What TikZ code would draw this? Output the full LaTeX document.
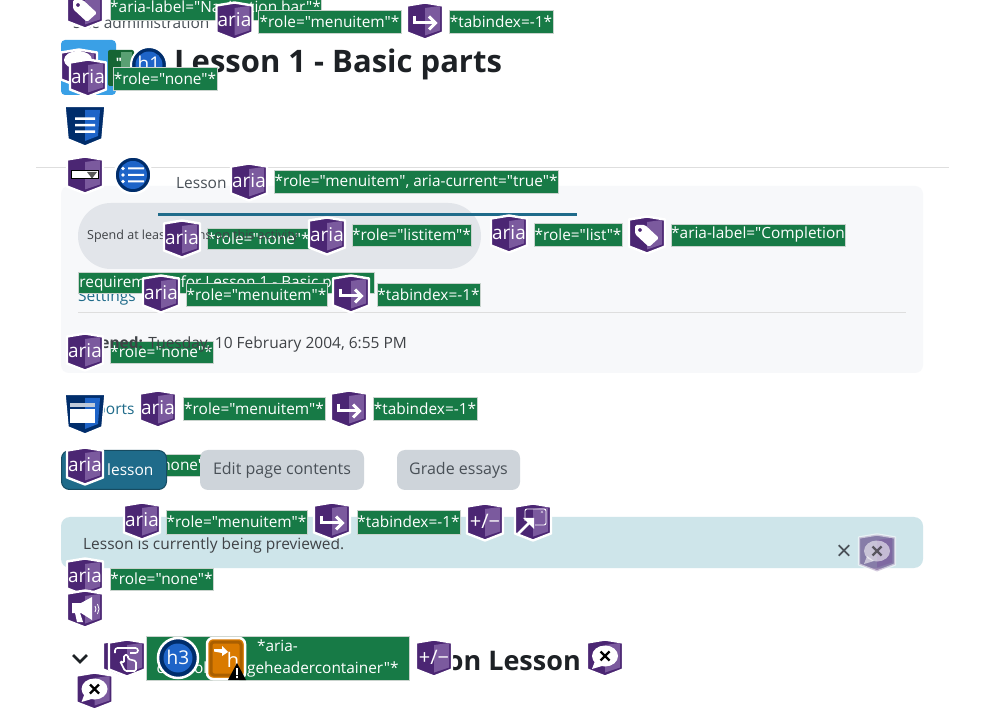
\documentclass[tikz,border=0pt]{standalone}
\usepackage{fontspec}
\newfontfamily\ofont{Open Sans}
\AtBeginDocument{\ofont}
\definecolor{pdark}{HTML}{4B2673}
\definecolor{plight}{HTML}{7B5A9E}
\definecolor{gbox}{HTML}{177A46}
\definecolor{gedge}{HTML}{C9D3CD}
\definecolor{ink}{HTML}{1D2125}
\definecolor{soft}{HTML}{495057}
\definecolor{link}{HTML}{1F6B8A}
\definecolor{navy}{HTML}{002D6B}
\definecolor{blu}{HTML}{1E64C8}
\definecolor{btn}{HTML}{CED4DA}
\definecolor{cardbg}{HTML}{F7F8FA}
\definecolor{pillbg}{HTML}{E2E5EA}
\definecolor{alertbg}{HTML}{CEE5EA}
\definecolor{skyb}{HTML}{3AA0E6}
\definecolor{qdark}{HTML}{166534}
\definecolor{qlight}{HTML}{5AA073}
\definecolor{orng}{HTML}{D97A00}
\definecolor{orngd}{HTML}{AA5F00}
\tikzset{
  gl/.style={fill=gbox,draw=gedge,line width=0.8pt,text=white,inner sep=0pt,font=\fontsize{15.4}{22}\selectfont,align=center},
  pagetxt/.style={inner sep=0pt,anchor=base west,text=soft,font=\fontsize{15.5}{18}\selectfont},
  icontxt/.style={inner sep=0pt,text=white,font=\fontsize{19}{20}\selectfont},
  greybtn/.style={fill=btn,rounded corners=8pt,inner sep=0pt,text=soft,font=\fontsize{16}{18}\selectfont},
}
% \glab{name}{x1}{y1}{x2}{y2}{text}
\newcommand\glab[6]{%
  \pgfmathsetmacro\gw{#4-#2}\pgfmathsetmacro\gh{#5-#3}%
  \pgfmathsetmacro\gx{(#4+#2)/2}\pgfmathsetmacro\gy{(#5+#3)/2}%
  \node[gl,minimum width=\gw pt,minimum height=\gh pt] (#1) at (\gx,\gy) {#6};}
% \shld{x}{y}{dark}{light}{icon code}
\newcommand\shld[5]{%
  \begin{scope}[shift={(#1,#2)}]
    \fill[#3,draw=white,line width=2.4pt,line join=round] (-18,-15.5)--(0,-18.5)--(18,-15.5)--(18,11.5)--(0,18.5)--(-18,11.5)--cycle;
    \fill[#4] (0,-13)--(15,-15)--(15,9.5)--(0,14.5)--cycle;
    #5
  \end{scope}}
\newcommand\Ash[3]{\shld{#1}{#2}{pdark}{plight}{\node[icontxt] (#3) at (0,-1) {aria};}}
\newcommand\Arr[3]{\shld{#1}{#2}{pdark}{plight}{\node[inner sep=0pt] (#3) at (0,0) {}; \draw[white,line width=3pt] (-11,-5)--(-11,2)--(9,2); \draw[white,line width=3pt] (4,-4.5)--(10.5,2)--(4,8.5);}}
\newcommand\Plm[3]{\shld{#1}{#2}{pdark}{plight}{\node[icontxt,font=\fontsize{20}{20}\selectfont] (#3) at (0,-1) {+/−};}}
\newcommand\Spx[3]{\shld{#1}{#2}{pdark}{plight}{\fill[white] (0,-2) ellipse (13 and 10.5); \fill[white] (-10,3)--(-13,11)--(-3,8)--cycle; \node[inner sep=0pt] (#3) at (0,-2) {}; \draw[black,line width=2.2pt] (-4.5,-6.5)--(4.5,2.5) (-4.5,2.5)--(4.5,-6.5);}}
\newcommand\Tag[3]{\shld{#1}{#2}{pdark}{plight}{\node[inner sep=0pt] (#3) at (0,0) {}; \fill[white,rounded corners=1.5pt,even odd rule] (-12,-10)--(-2,-10)--(12,3)--(2,12)--(-12,-1)--cycle (-7,-5) circle (2);}}
\begin{document}
\begin{tikzpicture}[x=1pt,y=-1pt]
\useasboundingbox (0,0) rectangle (1002,708);
\clip (0,0) rectangle (1002,708);
\fill[white] (0,0) rectangle (1002,708);
%% page
\draw[draw=black!13,line width=0.8pt] (36,167.5)--(949,167.5);
\fill[cardbg,rounded corners=8pt] (61,186) rectangle (923,373);
\fill[pillbg,rounded corners=33pt] (78,203) rectangle (481,269);
\fill[link] (158,213) rectangle (577,216);
\node[pagetxt] (sitead) at (73,29) {Site administration};
\node[pagetxt,text=ink,font=\fontsize{31}{34}\selectfont\bfseries] (title) at (174,73) {Lesson 1 - Basic parts};
\node[pagetxt] (lessontab) at (176,189) {Lesson};
\node[pagetxt,text=link] (settings) at (78,302) {Settings};
\draw[black!13,line width=0.8pt] (78,312.5)--(906,312.5);
\node[pagetxt,text=link] (reports) at (78,415) {Reports};
\fill[alertbg,rounded corners=9pt] (61,517) rectangle (923,568);
\node[pagetxt,text=ink!85] (prev) at (83,549) {Lesson is currently being previewed.};
\node[inner sep=0pt,text=soft] (closex) at (844,553) {\fontsize{27}{27}\selectfont ×};
\draw[ink,line width=2.6pt] (73,655)--(80,662)--(87,655);
\node[pagetxt,text=ink,font=\fontsize{27}{30}\selectfont\bfseries,anchor=base east] (sect) at (581,670) {on Lesson};
%% top row
\Tag{85}{10}{t1}
\glab{l1}{110}{-3}{321}{20}{*aria-label="Navigation bar"*}
\Ash{234.5}{21}{a1}
\glab{l2}{258}{10}{401}{33.5}{*role="menuitem"*}
\Arr{425}{21}{r1}
\glab{l3}{449}{10}{553}{33.5}{*tabindex=-1*}
%% title cluster
\fill[skyb,rounded corners=4pt] (61,40) rectangle (116,95);
\shld{79}{68}{pdark}{plight}{\fill[white] (-1,-8) ellipse (14 and 9);}
\fill[qdark,rounded corners=2pt] (108,50) rectangle (134,86);
\fill[qlight] (121,52) rectangle (132,84);
\node[inner sep=0pt,text=white,font=\bfseries\fontsize{13}{13}\selectfont] (quote) at (119,63) {"};
\fill[navy,draw=white,line width=2pt] (149,65) circle (18);
\fill[blu] (149,65) circle (13.5);
\node[icontxt] (h1) at (149,63) {h1};
\Ash{88}{78}{a2}
\glab{l4}{113}{67}{217}{90}{*role="none"*}
%% css list shield
\begin{scope}[shift={(85,126)}]
\fill[navy,draw=white,line width=1.5pt] (-20,-19.5)--(20,-19.5)--(17,13)--(0,20)--(-17,13)--cycle;
\fill[blu] (0,-16)--(15,-16)--(13,10)--(0,15)--cycle;
\fill[white] (-10,-8.5) rectangle (10,-6) (-10,-2) rectangle (10,0.5) (-10,4.5) rectangle (10,7);
\end{scope}
%% select + list
\shld{85}{175}{pdark}{plight}{\fill[white,draw=black,line width=1pt] (-13.5,-4) rectangle (13.5,4); \fill[black!65] (2,-3)--(12,-3)--(7,3.5)--cycle;}
\fill[navy,draw=white,line width=2.5pt] (133,175) circle (18.5);
\fill[blu] (133,175) circle (14);
\fill[white] (123,168.5) circle (1.8) (123,175) circle (1.8) (123,181.5) circle (1.8);
\fill[white] (128,167.5) rectangle (144,169.5) (128,174) rectangle (144,176) (128,180.5) rectangle (144,182.5);
\Ash{249}{182}{a3}
\glab{l5}{274}{170}{558}{193}{*role="menuitem", aria-current="true"*}
%% wrapped green line (behind)
\glab{l9}{78}{272}{374}{293}{}
\node[gl,fill=none,draw=none,anchor=west] (l9t) at (79,283) {requirements for Lesson 1 - Basic p};
\glab{l6}{207}{228}{310}{249}{*role="none"*}
\node[pagetxt,font=\fontsize{12.5}{14}\selectfont,text=ink!85] (spend) at (87,240) {Spend at least 0 mins on this activity};
\Ash{182}{239}{a4}
\Ash{327}{236}{a5}
\glab{l7}{352}{224}{471}{246}{*role="listitem"*}
\Ash{509}{234}{a6}
\glab{l8}{534}{223}{622}{246}{*role="list"*}
\Tag{647}{235}{t2}
\glab{l10}{671}{224}{845}{246}{*aria-label="Completion}
\Ash{161}{294}{a7}
\glab{l11}{186}{283}{327}{306}{*role="menuitem"*}
\Arr{351}{294}{r2}
\glab{l12}{377}{283}{480}{306}{*tabindex=-1*}
\glab{l13}{110}{341}{213}{363}{*role="none"*}
\node[pagetxt,text=ink!85] (opened) at (78,349) {\textbf{Opened:} Tuesday, 10 February 2004, 6:55 PM};
\Ash{85}{352}{a8}
%% css window
\begin{scope}[shift={(85,414)}]
\fill[navy,draw=white,line width=1.5pt] (-20,-19.5)--(20,-19.5)--(17,13)--(0,20)--(-17,13)--cycle;
\fill[blu] (0,-16)--(15,-16)--(13,10)--(0,15)--cycle;
\fill[white] (-15,-5) rectangle (10,9);
\fill[white!75!navy] (-15,-11) rectangle (10,-7);
\end{scope}
\Ash{158}{409}{a9}
\glab{l14}{183}{397}{325}{420}{*role="menuitem"*}
\Arr{349}{409}{r3}
\glab{l15}{373}{397}{477}{420}{*tabindex=-1*}
%% buttons
\glab{l16}{110}{454}{213}{476}{*role="none"*}
\node[fill=link,draw=link!70!black,line width=1pt,rounded corners=8pt,minimum width=105pt,minimum height=39pt,inner sep=0pt] (btn1) at (114,470) {};
\node[pagetxt,text=white,anchor=base west] (btn1t) at (107,476) {lesson};
\node[greybtn,minimum width=164pt,minimum height=40pt] (btn2) at (282,470) {Edit page contents};
\node[greybtn,minimum width=123pt,minimum height=40pt] (btn3) at (458.5,470) {Grade essays};
\Ash{85}{466}{a10}
%% preview row
\Ash{142}{521}{a11}
\glab{l17}{166}{510}{307}{534}{*role="menuitem"*}
\Arr{332}{521}{r4}
\glab{l18}{357}{510}{460}{534}{*tabindex=-1*}
\Plm{485}{522}{p1}
\shld{533}{522}{pdark}{plight}{\node[inner sep=0pt] (pop) at (0,0) {}; \draw[white,line width=0.9pt,rounded corners=2pt] (-8,-1)--(-8,-13)--(13,-13)--(13,3)--(2,3); \draw[white,line width=2.6pt] (-15,12)--(-2,-1); \fill[white] (-10,-4)--(1,-4)--(1,7)--cycle; \node[inner sep=0pt,text=white,font=\fontsize{6}{6}\selectfont] (popx) at (9,-9) {×};}
%% faded speech
\begin{scope}[opacity=0.55]
\Spx{877}{553}{s1}
\end{scope}
%% bottom
\Ash{85}{577}{a12}
\glab{l19}{110}{568}{213}{590}{*role="none"*}
\shld{85}{609}{pdark}{plight}{\node[inner sep=0pt] (mega) at (0,0) {}; \fill[white] (-13,-6)--(-4,-6)--(7,-12)--(7,11)--(-4,4)--(-5,4)--(-2,13)--(-8,13)--(-10,4)--(-13,4)--cycle; \draw[white,line width=0.8pt] (10,-3)--(11,0)--(10,3) (12.5,-5)--(14,0)--(12.5,5);}
\shld{121}{658}{pdark}{plight}{}
\shld{127}{658}{pdark}{plight}{\node[inner sep=0pt] (hand) at (0,0) {}; \draw[white,line width=1.6pt,rounded corners=2.5pt] (-12,-5)--(-12,-10)--(11,-10)--(11,-5)--(3,-5); \draw[white,line width=1.6pt,rounded corners=1.5pt] (-3,-3)--(-3,5)--(-7,3)--(-2,13)--(9,13)--(9,3)--(1,1)--(1,-3)--cycle;}
\glab{l20}{146}{636}{409}{680}{*aria-\\controls="pageheadercontainer"*}
\fill[navy,draw=white,line width=2.5pt] (178,658) circle (20);
\fill[blu] (178,658) circle (14.5);
\node[icontxt] (h3) at (178,657) {h3};
\fill[orng,draw=white,line width=2.5pt,rounded corners=6pt] (207,638) rectangle (245,679);
\draw[fill=orng,draw=orngd,line width=3pt,rounded corners=3pt] (211,642) rectangle (241,675);
\fill[white] (214,649) -- (222,649) -- (222,646) -- (228,652) -- (222,656) -- (222,653) -- (214,651.5) -- cycle;
\node[icontxt,font=\fontsize{20}{20}\selectfont] (hh) at (233,660) {h};
\fill[black] (237,663)--(246,680)--(228,680)--cycle;
\fill[white] (236.2,668) rectangle (237.8,675) (236.2,676.2) rectangle (237.8,678);
\Plm{434}{658}{p2}
\Spx{605}{658}{s2}
\Spx{94.5}{691}{s3}
\end{tikzpicture}
\end{document}
